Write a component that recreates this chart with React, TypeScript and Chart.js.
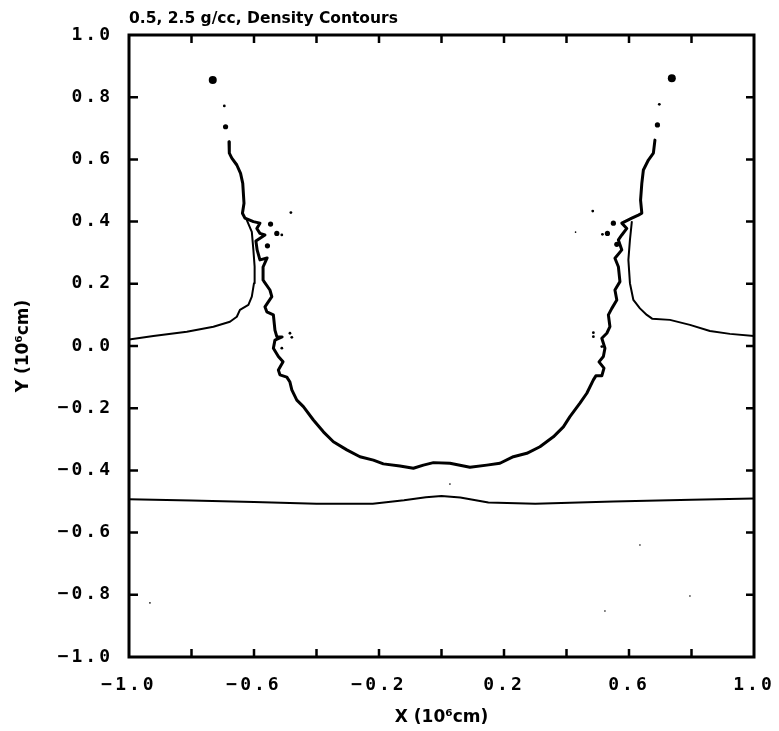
import React, { useEffect, useRef } from "react";
import { Chart, registerables } from "chart.js";

Chart.register(...registerables);

// ---- Data (units of 10^6 cm) ----
const titleText = "0.5, 2.5 g/cc, Density Contours";
const xTitle = "X (10\u2076cm)";
const yTitle = "Y (10\u2076cm)";

// Main (inner) contour: from upper-left filament, down around the crater bowl, up to the upper-right filament
const innerContour: [number, number][] = [
  [-0.680, 0.657], [-0.679, 0.620], [-0.671, 0.604], [-0.655, 0.582], [-0.643, 0.555],
  [-0.636, 0.523], [-0.634, 0.491], [-0.632, 0.459], [-0.637, 0.427], [-0.629, 0.411],
  [-0.602, 0.400], [-0.581, 0.395], [-0.591, 0.378], [-0.581, 0.362], [-0.565, 0.357],
  [-0.594, 0.338], [-0.590, 0.309], [-0.581, 0.277], [-0.558, 0.283], [-0.571, 0.254],
  [-0.571, 0.212], [-0.549, 0.180], [-0.543, 0.159], [-0.565, 0.126], [-0.559, 0.110],
  [-0.538, 0.100], [-0.533, 0.051], [-0.527, 0.030], [-0.510, 0.029], [-0.533, 0.019],
  [-0.538, -0.007], [-0.522, -0.034], [-0.507, -0.051], [-0.522, -0.077], [-0.517, -0.093],
  [-0.495, -0.100], [-0.485, -0.116], [-0.479, -0.141], [-0.463, -0.174], [-0.442, -0.195],
  [-0.410, -0.238], [-0.378, -0.276], [-0.346, -0.308], [-0.303, -0.334], [-0.261, -0.356],
  [-0.218, -0.367], [-0.186, -0.379], [-0.133, -0.386], [-0.090, -0.393], [-0.058, -0.383],
  [-0.026, -0.375], [0.027, -0.377], [0.091, -0.390], [0.145, -0.383], [0.187, -0.377],
  [0.230, -0.356], [0.273, -0.345], [0.315, -0.324], [0.358, -0.292], [0.390, -0.260],
  [0.411, -0.227], [0.443, -0.184], [0.465, -0.152], [0.486, -0.109], [0.494, -0.096],
  [0.513, -0.096], [0.520, -0.071], [0.504, -0.051], [0.518, -0.034], [0.523, -0.007],
  [0.513, 0.025], [0.529, 0.041], [0.539, 0.062], [0.534, 0.100], [0.545, 0.121],
  [0.561, 0.148], [0.555, 0.180], [0.571, 0.207], [0.566, 0.255], [0.555, 0.282],
  [0.577, 0.309], [0.566, 0.341], [0.577, 0.357], [0.593, 0.378], [0.577, 0.395],
  [0.609, 0.411], [0.630, 0.421], [0.641, 0.427], [0.637, 0.469], [0.641, 0.523],
  [0.646, 0.566], [0.662, 0.598], [0.678, 0.620], [0.683, 0.662],
];

// Outer contour, left branch: from the left edge up to the junction
const leftOuter: [number, number][] = [
  [-1.0, 0.021], [-0.922, 0.032], [-0.815, 0.046], [-0.730, 0.062], [-0.677, 0.078],
  [-0.655, 0.094], [-0.645, 0.116], [-0.618, 0.132], [-0.607, 0.159], [-0.600, 0.202],
  [-0.598, 0.255], [-0.602, 0.309], [-0.607, 0.367], [-0.623, 0.405],
];

// Outer contour, right branch: from the junction to the right edge
const rightOuter: [number, number][] = [
  [0.609, 0.399], [0.603, 0.341], [0.598, 0.277], [0.603, 0.202], [0.614, 0.148],
  [0.635, 0.121], [0.657, 0.100], [0.674, 0.088], [0.731, 0.084], [0.795, 0.068],
  [0.859, 0.048], [0.923, 0.039], [1.0, 0.032],
];

// Lower interface contour
const lowerContour: [number, number][] = [
  [-1.0, -0.493], [-0.8, -0.497], [-0.6, -0.502], [-0.4, -0.507], [-0.22, -0.507],
  [-0.12, -0.496], [-0.05, -0.486], [0.0, -0.482], [0.06, -0.487], [0.15, -0.503],
  [0.3, -0.507], [0.55, -0.500], [0.8, -0.494], [1.0, -0.490],
];

// Isolated droplets / fragments
const largeDrops: [number, number][] = [[-0.732, 0.855], [0.737, 0.861]];
const mediumDrops: [number, number][] = [
  [-0.691, 0.705], [0.691, 0.711], [-0.547, 0.392], [-0.527, 0.362], [-0.557, 0.322],
  [0.550, 0.395], [0.531, 0.362], [0.561, 0.327],
];
const smallDrops: [number, number][] = [
  [-0.695, 0.772], [0.697, 0.777], [-0.511, 0.357], [0.515, 0.359], [-0.482, 0.429],
  [0.484, 0.434], [-0.485, 0.041], [-0.479, 0.028], [-0.511, -0.007], [0.486, 0.043],
  [0.486, 0.030], [0.513, -0.002],
];
const specks: [number, number][] = [
  [0.429, 0.366], [0.027, -0.444], [-0.933, -0.826], [0.635, -0.640], [0.795, -0.804],
  [0.523, -0.852],
];

// Axis ticks
const axisMin = -1;
const axisMax = 1;
const tickStep = 0.2;
const xLabelValues = [-1.0, -0.6, -0.2, 0.2, 0.6, 1.0];
const innerTickValues = [-0.8, -0.6, -0.4, -0.2, 0.0, 0.2, 0.4, 0.6, 0.8];

const toPts = (arr: [number, number][]) => arr.map(([x, y]) => ({ x, y }));
const fmt = (v: number) => v.toFixed(1).replace("-", "\u2212");

const framePlugin = {
  id: "frameTicks",
  beforeDraw(chart: any) {
    // widen the tick-label lettering like the original plotter font
    for (const id of ["x", "y"]) {
      const s = chart.scales[id];
      if (s && !s.__spaced) {
        const orig = s.drawLabels.bind(s);
        s.drawLabels = (area: any) => {
          const c = s.ctx;
          c.save();
          c.letterSpacing = "3px";
          orig(area);
          c.restore();
        };
        s.__spaced = true;
      }
    }
  },
  afterDraw(chart: any) {
    const { ctx, chartArea: a, scales } = chart;
    ctx.save();
    ctx.strokeStyle = "#000";
    ctx.lineWidth = 3;
    ctx.strokeRect(a.left, a.top, a.right - a.left, a.bottom - a.top);
    ctx.lineWidth = 2.5;
    ctx.beginPath();
    for (const v of innerTickValues) {
      const px = scales.x.getPixelForValue(v);
      ctx.moveTo(px, a.bottom);
      ctx.lineTo(px, a.bottom - 8);
      ctx.moveTo(px, a.top);
      ctx.lineTo(px, a.top + 8);
      const py = scales.y.getPixelForValue(v);
      ctx.moveTo(a.left, py);
      ctx.lineTo(a.left + 9, py);
      ctx.moveTo(a.right, py);
      ctx.lineTo(a.right - 8, py);
    }
    ctx.stroke();
    ctx.restore();
  },
};

export default function App() {
  const canvasRef = useRef<HTMLCanvasElement | null>(null);

  useEffect(() => {
    document.body.style.margin = "0";
    document.body.style.overflow = "hidden";
    const canvas = canvasRef.current;
    if (!canvas) return;

    const lineDs = (label: string, data: [number, number][], width: number) => ({
      type: "scatter" as const,
      label,
      data: toPts(data),
      showLine: true,
      borderColor: "#000",
      backgroundColor: "#000",
      borderWidth: width,
      pointRadius: 0,
      pointHoverRadius: 0,
      tension: 0,
      borderJoinStyle: "round" as const,
      borderCapStyle: "round" as const,
    });
    const dotDs = (label: string, data: [number, number][], r: number) => ({
      type: "scatter" as const,
      label,
      data: toPts(data),
      showLine: false,
      pointRadius: r,
      pointHoverRadius: r,
      pointBorderWidth: 0,
      pointBackgroundColor: "#000",
      borderColor: "#000",
      backgroundColor: "#000",
    });

    const tickFont = { family: "'DejaVu Sans Mono', monospace", size: 18, weight: "bold" as const };
    const titleFont = { family: "'DejaVu Sans', sans-serif", size: 17, weight: "bold" as const };

    const chart = new Chart(canvas, {
      type: "scatter",
      data: {
        datasets: [
          lineDs("Inner contour", innerContour, 3),
          lineDs("Outer contour (left)", leftOuter, 2),
          lineDs("Outer contour (right)", rightOuter, 2),
          lineDs("Lower contour", lowerContour, 2),
          dotDs("Large drops", largeDrops, 4),
          dotDs("Medium drops", mediumDrops, 2.6),
          dotDs("Small drops", smallDrops, 1.4),
          dotDs("Specks", specks, 0.8),
        ],
      },
      options: {
        responsive: false,
        animation: false,
        devicePixelRatio: 1,
        layout: { padding: { top: 0, right: 25, bottom: 0, left: 0 } },
        plugins: {
          legend: { display: false },
          tooltip: { enabled: false },
          title: {
            display: true,
            text: titleText,
            align: "start",
            fullSize: false,
            color: "#000",
            font: { family: "'DejaVu Sans', sans-serif", size: 15.5, weight: "bold" },
            padding: { top: 9.5, bottom: 6.9 },
          },
        },
        scales: {
          x: {
            type: "linear",
            min: axisMin,
            max: axisMax,
            grid: { display: false, drawTicks: false },
            border: { display: false },
            ticks: {
              stepSize: tickStep,
              padding: 18,
              color: "#000",
              font: tickFont,
              maxRotation: 0,
              autoSkip: false,
              callback: (v: any) =>
                xLabelValues.some((l) => Math.abs(l - Number(v)) < 1e-6) ? fmt(Number(v)) : "",
            },
            title: {
              display: true,
              text: xTitle,
              color: "#000",
              font: titleFont,
              padding: { top: 0, bottom: 2.8 },
            },
            afterFit: (s: any) => {
              s.height = 74;
              s.paddingLeft = 0;
              s.paddingRight = 0;
            },
          },
          y: {
            type: "linear",
            min: axisMin,
            max: axisMax,
            grid: { display: false, drawTicks: false },
            border: { display: false },
            ticks: {
              stepSize: tickStep,
              padding: 16,
              color: "#000",
              font: tickFont,
              autoSkip: false,
              callback: (v: any) => fmt(Number(v)),
            },
            title: {
              display: true,
              text: yTitle,
              color: "#000",
              font: titleFont,
              padding: { top: 13, bottom: 0 },
            },
            afterFit: (s: any) => {
              s.width = 129;
              s.paddingTop = 0;
              s.paddingBottom = 0;
            },
          },
        },
      },
      plugins: [framePlugin],
    });

    return () => chart.destroy();
  }, []);

  return (
    <div style={{ width: 779, height: 731, position: "relative", background: "#fff" }}>
      <canvas ref={canvasRef} width={779} height={731} style={{ display: "block" }} />
    </div>
  );
}
